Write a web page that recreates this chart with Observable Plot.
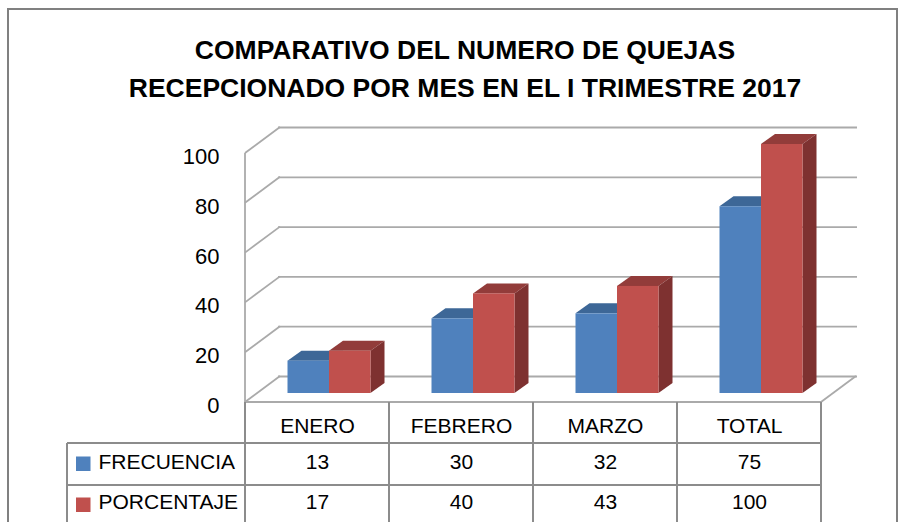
<!DOCTYPE html>
<html>
<head>
<meta charset="utf-8">
<script src="https://cdn.jsdelivr.net/npm/d3@7"></script>
<script src="https://cdn.jsdelivr.net/npm/@observablehq/plot@0.6"></script>
<style>
  html, body { margin: 0; padding: 0; background: #fff; overflow: hidden; }
  #wrap { position: relative; width: 902px; height: 522px; overflow: hidden; font-family: "Liberation Sans", Arial, sans-serif; }
  #frame { position: absolute; left: 7px; top: 8px; width: 891px; height: 600px; box-sizing: border-box; border: 2px solid #808080; }
  #title { position: absolute; left: 0; width: 930px; top: 31px; text-align: center; font-weight: bold; font-size: 25px; line-height: 38px; color: #000; transform: scaleX(1.06); transform-origin: 465px 0; }
  #chart { position: absolute; left: 0; top: 0; }
</style>
</head>
<body>
<div id="wrap">
  <div id="frame"></div>
  <div id="chart"></div>
  <div id="title">COMPARATIVO DEL NUMERO DE QUEJAS<br>RECEPCIONADO POR MES EN EL I TRIMESTRE 2017</div>
</div>
<script>
const meses = ["ENERO", "FEBRERO", "MARZO", "TOTAL"];
const series = ["FRECUENCIA", "PORCENTAJE"];
const frecuencia = [13, 30, 32, 75];
const porcentaje = [17, 40, 43, 100];
const yTicks = [0, 20, 40, 60, 80, 100];

const colores = [
  {front: "#4F81BD", top: "#3D6797", side: "#385D8A"},
  {front: "#C0504D", top: "#923C3A", side: "#7E3130"}
];
const valores = [frecuencia, porcentaje];

const GRID = "#aaaaaa";
const TABLE = "#8c8c8c";
const WALL = {dx: 35, dy: -26};

function bw(x, dims) {
  return x.bandwidth ? x.bandwidth() : (dims.width - dims.marginLeft - dims.marginRight) / meses.length;
}

function walls(index, scales, values, dims) {
  const {x, y} = scales;
  const g = d3.create("svg:g").attr("fill", "none");
  const left = x(meses[0]);
  const right = x(meses[meses.length - 1]) + bw(x, dims);
  for (const t of yTicks) {
    g.append("line").attr("x1", left).attr("y1", y(t)).attr("x2", left + WALL.dx).attr("y2", y(t) + WALL.dy)
      .attr("stroke", GRID).attr("stroke-width", 1.8);
  }
  g.append("line").attr("x1", right).attr("y1", y(0)).attr("x2", right + WALL.dx).attr("y2", y(0) + WALL.dy)
    .attr("stroke", GRID).attr("stroke-width", 1.8);
  g.append("line").attr("x1", left).attr("y1", y(yTicks[yTicks.length - 1])).attr("x2", left).attr("y2", y(0))
    .attr("stroke", GRID).attr("stroke-width", 1.8);
  return g.node();
}

function bars(index, scales, values, dims) {
  const {x, y} = scales;
  const b = bw(x, dims);
  const W = 41.5, OX = 12, OY = -9, DX = 14, DY = -10;
  const g = d3.create("svg:g");
  meses.forEach((m, i) => {
    valores.forEach((serie, j) => {
      const v = serie[i];
      const xl = x(m) + b / 2 + OX + (j - 1) * W;
      const yt = y(v) + OY, yb = y(0) + OY;
      const c = colores[j];
      g.append("polygon").attr("points", [[xl, yt], [xl + W, yt], [xl + W + DX, yt + DY], [xl + DX, yt + DY]].join(" ")).attr("fill", c.top);
      g.append("polygon").attr("points", [[xl + W, yt], [xl + W + DX, yt + DY], [xl + W + DX, yb + DY], [xl + W, yb]].join(" ")).attr("fill", c.side);
      g.append("rect").attr("x", xl).attr("y", yt).attr("width", W).attr("height", yb - yt).attr("fill", c.front);
    });
  });
  return g.node();
}

function table(index, scales, values, dims) {
  const {x, y} = scales;
  const b = bw(x, dims);
  const g = d3.create("svg:g").attr("stroke", TABLE).attr("stroke-width", 2).attr("fill", "none");
  const left = x(meses[0]);
  const right = x(meses[meses.length - 1]) + b;
  const y0 = y(0);
  const rowH = [41, 42];
  const tabLeft = 67;
  const bottom = dims.height + 10;
  g.append("line").attr("x1", left).attr("x2", right).attr("y1", y0).attr("y2", y0).attr("stroke", GRID).attr("stroke-width", 1.8);
  const r1 = y0 + rowH[0], r2 = r1 + rowH[1];
  for (const ry of [r1, r2]) {
    g.append("line").attr("x1", tabLeft).attr("x2", right).attr("y1", ry).attr("y2", ry);
  }
  const xs = meses.map(m => x(m)).concat([right]);
  for (const vx of xs) {
    g.append("line").attr("x1", vx).attr("x2", vx).attr("y1", y0).attr("y2", bottom);
  }
  g.append("line").attr("x1", tabLeft).attr("x2", tabLeft).attr("y1", r1).attr("y2", bottom);
  series.forEach((s, j) => {
    g.append("rect").attr("x", 76).attr("y", y0 + 54.5 + j * 41).attr("width", 14.5).attr("height", 14.5)
      .attr("fill", colores[j].front).attr("stroke", "none");
  });
  return g.node();
}

const filas = meses.map((m, i) => ({mes: m, frecuencia: frecuencia[i], porcentaje: porcentaje[i]}));

const plot = Plot.plot({
  width: 902,
  height: 522,
  marginTop: 153,
  marginBottom: 120,
  marginLeft: 243,
  marginRight: 80,
  style: {fontFamily: "'Liberation Sans', Arial, sans-serif", background: "transparent", color: "#000"},
  x: {type: "band", domain: meses, padding: 0, axis: null},
  y: {domain: [0, 100]},
  marks: [
    Plot.ruleY(yTicks, {y: d => d, dx: WALL.dx, dy: WALL.dy, stroke: GRID, strokeWidth: 1.8}),
    walls,
    bars,
    table,
    Plot.axisY(yTicks, {tickSize: 0, tickPadding: 24, fontSize: 22, dy: 3.5, label: null, tickFormat: d => String(d)}),
    Plot.text(meses, {x: d => d, frameAnchor: "bottom", dy: 30.5, fontSize: 21, fill: "#000"}),
    Plot.text(filas, {x: "mes", text: d => String(d.frecuencia), frameAnchor: "bottom", dy: 66, fontSize: 21, fill: "#000"}),
    Plot.text(filas, {x: "mes", text: d => String(d.porcentaje), frameAnchor: "bottom", dy: 106, fontSize: 21, fill: "#000"}),
    Plot.text([series[0]], {text: d => d, frameAnchor: "bottom-left", dx: -145, dy: 66, textAnchor: "start", fontSize: 21, fill: "#000"}),
    Plot.text([series[1]], {text: d => d, frameAnchor: "bottom-left", dx: -145, dy: 106, textAnchor: "start", fontSize: 21, fill: "#000"})
  ]
});
document.getElementById("chart").appendChild(plot);
</script>
</body>
</html>
